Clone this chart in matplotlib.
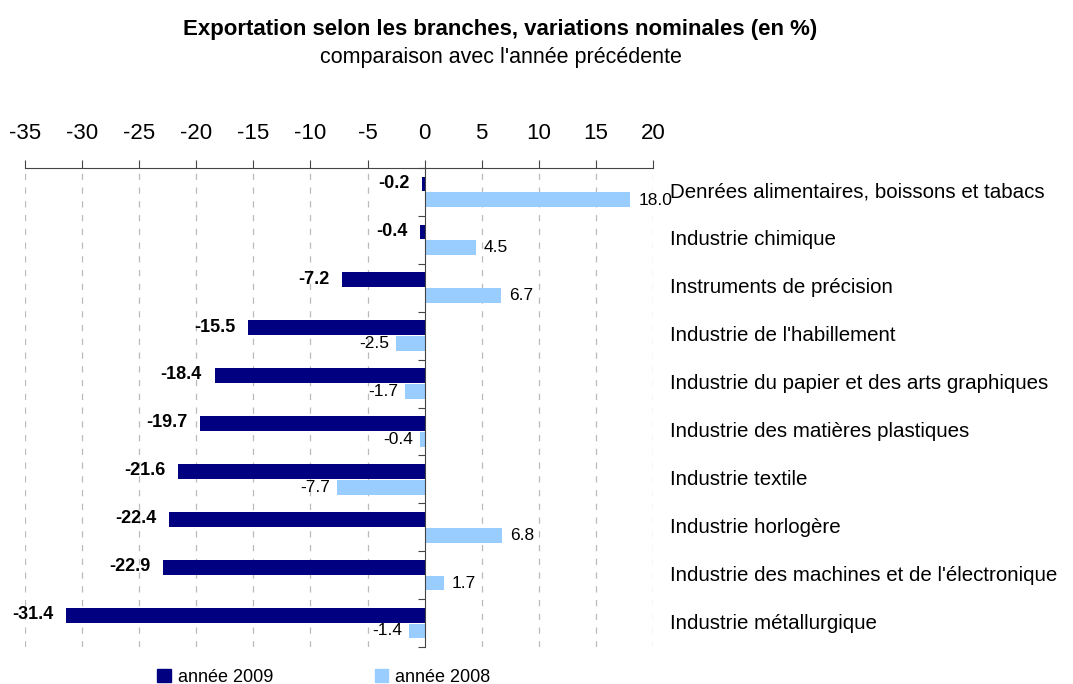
import numpy as np
import matplotlib.pyplot as plt
from matplotlib.patches import Patch

plt.rcParams['font.family'] = ['Liberation Sans', 'DejaVu Sans']

# Branches, top to bottom
branches = [
    "Denrées alimentaires, boissons et tabacs",
    "Industrie chimique",
    "Instruments de précision",
    "Industrie de l'habillement",
    "Industrie du papier et des arts graphiques",
    "Industrie des matières plastiques",
    "Industrie textile",
    "Industrie horlogère",
    "Industrie des machines et de l'électronique",
    "Industrie métallurgique",
]
y2009 = [-0.2, -0.4, -7.2, -15.5, -18.4, -19.7, -21.6, -22.4, -22.9, -31.4]
y2008 = [18.0, 4.5, 6.7, -2.5, -1.7, -0.4, -7.7, 6.8, 1.7, -1.4]
xticks = [-35, -30, -25, -20, -15, -10, -5, 0, 5, 10, 15, 20]

c2009 = "#000080"
c2008 = "#99ccff"

fig = plt.figure(figsize=(10.73, 6.84), dpi=100)
ax = fig.add_axes([25 / 1073, 1 - 647 / 684, (653 - 25) / 1073, (647 - 168) / 684])

pos = np.arange(len(branches))
h = 0.31
ax.barh(pos - 0.165, y2009, height=h, color=c2009, zorder=3)
ax.barh(pos + 0.165, y2008, height=h, color=c2008, zorder=3)

ax.set_xlim(-35, 20)
ax.set_ylim(len(branches) - 0.5, -0.5)

# axis on top, grid dashed
ax.xaxis.tick_top()
ax.set_xticks(xticks)
ax.set_xticklabels([str(t) for t in xticks], fontsize=16)
ax.tick_params(axis='x', direction='out', length=6, pad=11, color='#444444')
for t in xticks:
    if t != 0:
        ax.axvline(t, color='#bbbbbb', lw=0.9, ls=(0, (5, 6)), zorder=1)

for s in ['right', 'bottom']:
    ax.spines[s].set_visible(False)
ax.spines['top'].set_color('#444444')
ax.spines['left'].set_position(('data', 0))
ax.spines['left'].set_color('#444444')
ax.spines['left'].set_zorder(4)
ax.set_yticks(np.arange(len(branches) + 1) - 0.5)
ax.set_yticklabels([])
ax.tick_params(axis='y', direction='out', length=5, color='#444444')

# value labels
for i, v in enumerate(y2009):
    ax.text(v - 1.1, i - 0.18, f"{v:.1f}", ha='right', va='center',
            fontsize=13, fontweight='bold', zorder=5)
for i, v in enumerate(y2008):
    if v >= 0:
        ax.text(v + 0.7, i + 0.17, f"{v:.1f}", ha='left', va='center', fontsize=12.5)
    else:
        ax.text(v - 0.6, i + 0.16, f"{v:.1f}", ha='right', va='center', fontsize=12.5)

# category labels on the right
for i, name in enumerate(branches):
    ax.text(21.45, i, name, ha='left', va='center', fontsize=14.8, clip_on=False)

fig.text(0.466, 1 - 29 / 684, "Exportation selon les branches, variations nominales (en %)",
         ha='center', va='center', fontsize=16, fontweight='bold')
fig.text(0.467, 1 - 58 / 684, "comparaison avec l'année précédente",
         ha='center', va='center', fontsize=15.5)

handles = [Patch(color=c2009, label="année 2009"), Patch(color=c2008, label="année 2008")]
fig.legend(handles=handles, loc='center', bbox_to_anchor=(0.302, 1 - 677 / 684), ncol=2,
           frameon=False, fontsize=13, handlelength=0.75, handleheight=0.75,
           handletextpad=0.4, columnspacing=5.6)

fig.savefig("out.png", dpi=100)
